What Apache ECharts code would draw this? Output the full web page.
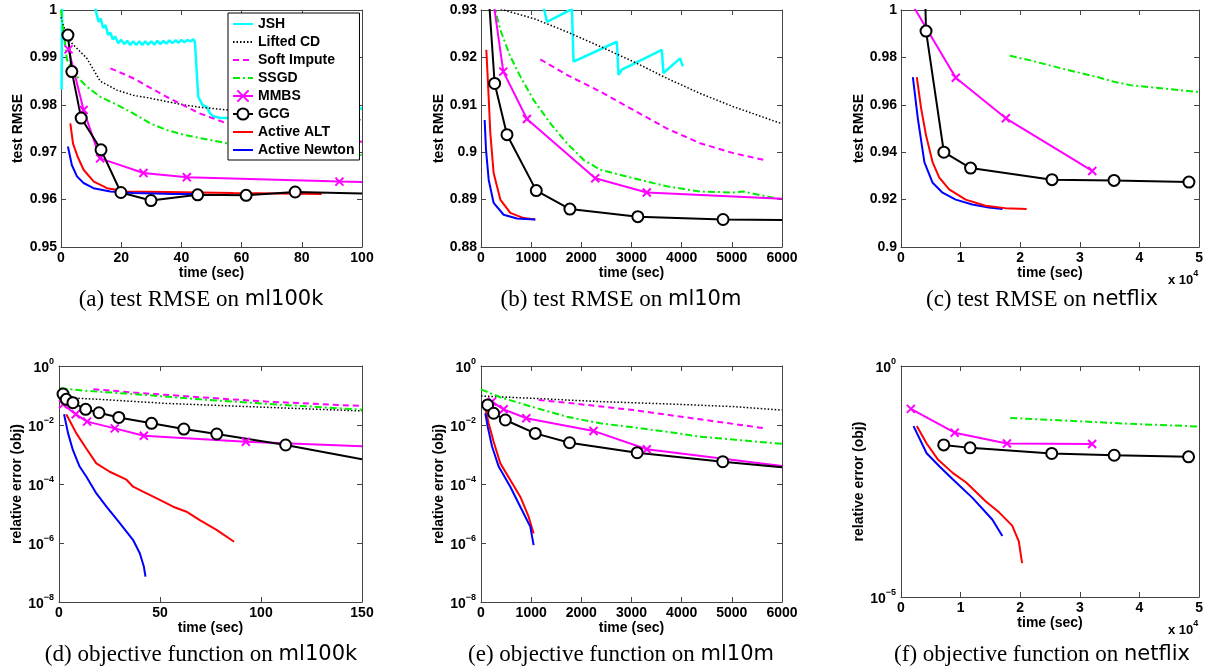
<!DOCTYPE html>
<html>
<head>
<meta charset="utf-8">
<title>Test RMSE and objective vs time</title>
<script src="https://cdn.jsdelivr.net/npm/echarts@6/dist/echarts.min.js"></script>
<style>
  html, body { margin: 0; padding: 0; background: #fff; }
  #chart { width: 1206px; height: 667px; }
</style>
</head>
<body>
<div id="chart"></div>
<script>
// legend order
const methods = ['JSH', 'Lifted CD', 'Soft Impute', 'SSGD', 'MMBS', 'GCG', 'Active ALT', 'Active Newton']

// points are [time, value]; a third element 0 means "no marker at this point"

// (a) test RMSE on ml100k
const aJSH = [[0.2, 0.9832], [0.4, 1.005], [11.0, 1.005], [11.5, 1.0], [12.5, 0.9975], [13.2, 0.9982], [14, 0.9962], [14.8, 0.9968],
  [15.6, 0.9948], [16.4, 0.9952], [17.2, 0.9938], [18, 0.9944], [19, 0.993], [20, 0.9937], [21, 0.9928], [22, 0.9935], [23, 0.9926],
  [24, 0.9934], [25, 0.9926], [26, 0.9934], [27, 0.9926], [28, 0.9934], [29, 0.9927], [30, 0.9934], [31, 0.9927], [32, 0.9935],
  [33, 0.9928], [34, 0.9935], [35, 0.9929], [36, 0.9936], [37, 0.993], [38, 0.9936], [39, 0.9931], [40, 0.9937], [41, 0.9932],
  [42, 0.9937], [43, 0.9934], [44, 0.9938], [44.5, 0.9932], [45.6, 0.9817], [47, 0.98], [48.5, 0.9795], [49.5, 0.9782],
  [50.5, 0.9776], [53, 0.9772], [56, 0.9772], [70, 0.9778], [85, 0.9785], [100, 0.9792]]
const aLifted = [[0, 0.9985], [0.9, 0.9965], [3.6, 0.993], [8.6, 0.9898], [13, 0.985], [18.6, 0.9831], [24, 0.982], [29.6, 0.9814],
  [35, 0.9807], [40.7, 0.98], [46, 0.9795], [55.4, 0.9789], [70, 0.978], [85, 0.9774], [100, 0.9768]]
const aSoft = [[16.4, 0.9877], [24, 0.9856], [35, 0.9817], [46, 0.9782], [55, 0.9761], [70, 0.9745], [85, 0.9733], [100, 0.9722]]
const aSSGD = [[0, 1.0], [0.9, 0.9951], [2, 0.9895], [4.2, 0.9867], [8.6, 0.9838], [13, 0.9817], [18.6, 0.98], [24, 0.9782],
  [29.6, 0.9761], [35, 0.9747], [40.7, 0.9737], [46, 0.973], [55, 0.9719], [75, 0.9705], [100, 0.9694]]
const aMMBS = [[2.5, 0.9917], [7.5, 0.9789], [13, 0.9687], [27.4, 0.9656], [41.8, 0.9647], [92.5, 0.9638], [100, 0.9637, 0]]
const aGCG = [[2.3, 0.9947], [3.6, 0.987], [6.7, 0.9772], [13.3, 0.9705], [19.9, 0.9615], [29.9, 0.9598], [45.4, 0.961],
  [61.5, 0.9609], [77.8, 0.9616], [100, 0.9613, 0]]
const aALT = [[3.1, 0.9761], [4.0, 0.9718], [5.5, 0.9691], [7.5, 0.9663], [10.9, 0.9638], [15.3, 0.9624], [21.9, 0.9617],
  [35, 0.9616], [57.3, 0.9614], [86.6, 0.9612]]
const aNewton = [[2.3, 0.9712], [3.6, 0.9673], [5.3, 0.9649], [7.5, 0.9635], [10.8, 0.9624], [16.4, 0.9617], [24, 0.9614],
  [37.4, 0.9612], [46.2, 0.9612]]

// (b) test RMSE on ml10m
const bJSH = [[1230, 0.9315], [1314, 0.9275], [1812, 0.9302], [1845, 0.9191], [2708, 0.9233], [2741, 0.9163], [2808, 0.9174],
  [3604, 0.9216], [3637, 0.9167], [3969, 0.9198], [4022, 0.9181]]
const bLifted = [[0, 0.9318], [451, 0.93], [1049, 0.9282], [1712, 0.9254], [2376, 0.9223], [3040, 0.9191], [3704, 0.9156],
  [4367, 0.9124], [5031, 0.9096], [6000, 0.906]]
const bSoft = [[1181, 0.9196], [1712, 0.9163], [2376, 0.9128], [3040, 0.9089], [3704, 0.905], [4367, 0.9019], [5031, 0.8998],
  [5668, 0.8983]]
const bSSGD = [[200, 0.935], [285, 0.93], [385, 0.9258], [584, 0.9202], [783, 0.916], [1049, 0.911], [1381, 0.9061], [1712, 0.9019],
  [2044, 0.8984], [2376, 0.8963], [3040, 0.8945], [3704, 0.8928], [4367, 0.8917], [5031, 0.8915], [5230, 0.8917], [6000, 0.89]]
const bMMBS = [[230, 0.933, 0], [445, 0.917], [916, 0.907], [2277, 0.8945], [3305, 0.8915], [6000, 0.8902, 0]]
const bGCG = [[160, 0.932, 0], [272, 0.9145], [518, 0.9037], [1102, 0.8919], [1772, 0.888], [3126, 0.8864], [4825, 0.8858],
  [6000, 0.8857, 0]]
const bALT = [[106, 0.9216], [133, 0.916], [186, 0.904], [252, 0.8956], [385, 0.89], [584, 0.8872], [850, 0.8861], [1082, 0.8858]]
const bNewton = [[73, 0.9068], [100, 0.9005], [153, 0.8942], [252, 0.8893], [451, 0.8868], [717, 0.886], [1082, 0.8858]]

// (c) test RMSE on netflix
const cSSGD = [[18250, 0.9807], [21900, 0.9786], [27430, 0.975], [32960, 0.9717], [35730, 0.9697], [38500, 0.9683],
  [44030, 0.9669], [50000, 0.9654]]
const cMMBS = [[1660, 1.0033], [9180, 0.9714], [17590, 0.9543], [32080, 0.9321]]
const cGCG = [[4000, 1.01, 0], [4200, 0.9911], [7190, 0.94], [11670, 0.9333], [25330, 0.9284], [35730, 0.9281], [48290, 0.9274]]
const cALT = [[2650, 0.9717], [3370, 0.9586], [4200, 0.9471], [5310, 0.9357], [6420, 0.9293], [8080, 0.9243], [10840, 0.92],
  [14160, 0.9174], [17480, 0.9164], [21070, 0.916]]
const cNewton = [[1990, 0.9717], [2820, 0.9543], [3930, 0.9357], [5310, 0.9271], [6970, 0.9229], [9180, 0.92], [11950, 0.9179],
  [14710, 0.9167], [17040, 0.916]]

// (d) objective function on ml100k
const dLifted = [[1, 0.1], [10, 0.08], [20, 0.074], [53, 0.054], [86, 0.044], [119, 0.036], [150, 0.03]]
const dSoft = [[17, 0.163], [37, 0.126], [70, 0.087], [103, 0.062], [150, 0.044]]
const dSSGD = [[0.7, 0.175], [12, 0.146], [37, 0.112], [70, 0.074], [103, 0.052], [150, 0.033]]
const dMMBS = [[2, 0.05], [8.3, 0.023], [13.9, 0.013], [27.6, 0.0077], [42, 0.0043], [92.5, 0.0027], [150, 0.0019, 0]]
const dGCG = [[2, 0.112], [3.6, 0.074], [6.9, 0.057], [13.2, 0.034], [19.8, 0.026], [29.6, 0.018], [45.8, 0.0114], [61.8, 0.0073],
  [78.1, 0.00495], [112.2, 0.0021], [150, 0.00069, 0]]
const dALT = [[3.6, 0.023], [8.6, 0.0052], [13.5, 0.0016], [18.5, 0.0005], [25.1, 0.00026], [33.4, 0.00014], [36.7, 0.000081],
  [41.6, 0.000055], [49.9, 0.000029], [56.5, 0.000017], [63.1, 0.0000115], [69.7, 0.000006], [78, 0.0000028], [86.7, 0.0000011]]
const dNewton = [[2.5, 0.023], [4.5, 0.0052], [6.9, 0.0014], [10.2, 0.00039], [13.5, 0.00018], [18.5, 0.000048], [23.5, 0.000017],
  [30.1, 0.0000047], [36.7, 0.00000126], [40, 0.00000045], [42, 0.00000016], [42.8, 0.000000072]]

// (e) objective function on ml10m
const eLifted = [[0, 0.096], [1049, 0.08], [2376, 0.062], [3704, 0.052], [5031, 0.042], [6000, 0.032]]
const eSoft = [[1148, 0.07], [1712, 0.057], [3040, 0.032], [4367, 0.0156], [5668, 0.0077]]
const eSSGD = [[0, 0.162], [385, 0.087], [1049, 0.04], [1712, 0.019], [2376, 0.0114], [3040, 0.0083], [3704, 0.0059], [4367, 0.004],
  [5031, 0.0032], [6000, 0.0023]]
const eMMBS = [[219, 0.062], [451, 0.034], [903, 0.017], [2243, 0.0063], [3305, 0.0015], [6000, 0.00041, 0]]
const eGCG = [[133, 0.048], [252, 0.025], [485, 0.0148], [1082, 0.0052], [1765, 0.0025], [3113, 0.00115], [4819, 0.00057],
  [6000, 0.00037, 0]]
const eALT = [[86, 0.037], [153, 0.0114], [252, 0.0027], [385, 0.0005], [584, 0.000137], [783, 0.000037], [949, 0.0000078],
  [1049, 0.0000021]]
const eNewton = [[86, 0.025], [133, 0.0088], [219, 0.0019], [352, 0.00039], [584, 0.000081], [783, 0.000017], [982, 0.0000036],
  [1049, 0.00000085]]

// (f) objective function on netflix
const fSSGD = [[18320, 0.075], [27480, 0.066], [38520, 0.056], [50000, 0.049]]
const fMMBS = [[1656, 0.118], [9000, 0.036], [17770, 0.021], [32060, 0.0205]]
const fGCG = [[7170, 0.0196], [11590, 0.0169], [25280, 0.0128], [35760, 0.0117], [48230, 0.0108]]
const fALT = [[2650, 0.05], [4300, 0.021], [6240, 0.0093], [8720, 0.0048], [10930, 0.003], [14240, 0.00117], [16450, 0.00068],
  [18650, 0.00035], [19760, 0.00016], [20310, 0.000054]]
const fNewton = [[2100, 0.05], [4300, 0.0129], [6510, 0.0066], [8720, 0.0035], [12030, 0.00138], [15340, 0.00047], [17000, 0.00021]]

// log-axis tick values
const logTicksDE = [1e-8, 1e-6, 1e-4, 1e-2, 1]
const logTicksF = [1e-5, 1]

const captions = [
  ['(a) test RMSE on ', 'ml100k'], ['(b) test RMSE on ', 'ml10m'], ['(c) test RMSE on ', 'netflix'],
  ['(d) objective function on ', 'ml100k'], ['(e) objective function on ', 'ml10m'], ['(f) objective function on ', 'netflix']
]

const FONT = 'Liberation Sans'
const AXIS_COLOR = '#444'
const xPath = 'path://M0,0L10,10M10,0L0,10'

const methodStyle = {
  'JSH': { color: '#00ffff', width: 2.5, type: 'solid' },
  'Lifted CD': { color: '#000', width: 1.5, type: [1.5, 2] },
  'Soft Impute': { color: '#ff00ff', width: 2, type: [6, 4] },
  'SSGD': { color: '#00ee00', width: 2, type: [7, 3, 2, 3] },
  'MMBS': { color: '#ff00ff', width: 2, type: 'solid', symbol: xPath, symbolSize: 8 },
  'GCG': { color: '#000', width: 2, type: 'solid', symbol: 'emptyCircle', symbolSize: 11 },
  'Active ALT': { color: '#ff0000', width: 2, type: 'solid' },
  'Active Newton': { color: '#0000ff', width: 2, type: 'solid' }
}

// plot boxes (a)..(f)
const grids = [
  { left: 61, top: 10, width: 301, height: 237 },
  { left: 481, top: 10, width: 301, height: 237 },
  { left: 901, top: 10, width: 302, height: 237 },
  { left: 59, top: 366, width: 303, height: 236 },
  { left: 481, top: 366, width: 301, height: 236 },
  { left: 901, top: 366, width: 302, height: 231 }
]

const tickFont = { fontFamily: FONT, fontWeight: 'bold', fontSize: 14, color: '#000' }

function logLabel(v) {
  const e = Math.round(Math.log10(v))
  return '{b|10}{s|' + String(e).replace('-', '\u2212') + '}'
}
const logRich = {
  b: { fontFamily: FONT, fontWeight: 'bold', fontSize: 14, color: '#000', padding: [4, 0, 0, 0] },
  s: { fontFamily: FONT, fontWeight: 'bold', fontSize: 9, color: '#000', verticalAlign: 'top' }
}

const xAxes = []
const yAxes = []

function addX(gi, min, max, interval, fmt, nameGap) {
  const base = {
    gridIndex: gi, type: 'value', min, max, interval,
    axisLine: { show: true, onZero: false, lineStyle: { color: AXIS_COLOR, width: 1 } },
    axisTick: { show: true, inside: true, length: 5, lineStyle: { color: AXIS_COLOR } },
    splitLine: { show: false }
  }
  xAxes.push(Object.assign({}, base, {
    position: 'bottom',
    name: 'time (sec)', nameLocation: 'middle', nameGap,
    nameTextStyle: { fontFamily: FONT, fontWeight: 'bold', fontSize: 14, color: '#000' },
    axisLabel: Object.assign({ margin: 4, formatter: fmt }, tickFont)
  }))
  xAxes.push(Object.assign({}, base, { position: 'top', axisLabel: { show: false } }))
}

function addY(gi, type, min, max, interval, ticks, name, nameGap) {
  const base = {
    gridIndex: gi, type, min, max,
    axisLine: { show: true, onZero: false, lineStyle: { color: AXIS_COLOR, width: 1 } },
    axisTick: { show: true, inside: true, length: 5, lineStyle: { color: AXIS_COLOR } },
    splitLine: { show: false }
  }
  if (type === 'value') base.interval = interval
  else base.axisTick.customValues = ticks
  const label = type === 'value'
    ? Object.assign({ margin: 4 }, tickFont)
    : { margin: 5, formatter: logLabel, rich: logRich, customValues: ticks }
  yAxes.push(Object.assign({}, base, {
    position: 'left',
    name, nameLocation: 'middle', nameGap, nameRotate: 90,
    nameTextStyle: { fontFamily: FONT, fontWeight: 'bold', fontSize: 14, color: '#000' },
    axisLabel: label
  }))
  yAxes.push(Object.assign({}, base, { position: 'right', axisLabel: { show: false } }))
}

const secFmt = (v) => String(v)
const e4Fmt = (v) => String(v / 10000)

addX(0, 0, 100, 20, secFmt, 19)
addX(1, 0, 6000, 1000, secFmt, 19)
addX(2, 0, 50000, 10000, e4Fmt, 19)
addX(3, 0, 150, 50, secFmt, 19)
addX(4, 0, 6000, 1000, secFmt, 19)
addX(5, 0, 50000, 10000, e4Fmt, 11)

addY(0, 'value', 0.95, 1, 0.01, null, 'test RMSE', 36)
addY(1, 'value', 0.88, 0.93, 0.01, null, 'test RMSE', 32)
addY(2, 'value', 0.9, 1, 0.02, null, 'test RMSE', 32)
addY(3, 'log', 1e-8, 1, null, logTicksDE, 'relative error (obj)', 33)
addY(4, 'log', 1e-8, 1, null, logTicksDE, 'relative error (obj)', 34)
addY(5, 'log', 1e-5, 1, null, logTicksF, 'relative error (obj)', 34)

function line(name, gi, pts) {
  const st = methodStyle[name]
  return {
    type: 'line', name,
    xAxisIndex: gi * 2, yAxisIndex: gi * 2,
    data: pts.map((p) => (p[2] === 0 ? { value: [p[0], p[1]], symbol: 'none' } : [p[0], p[1]])),
    symbol: st.symbol || 'none',
    symbolSize: st.symbolSize || 0,
    showSymbol: !!st.symbol,
    clip: true,
    lineStyle: { color: st.color, width: st.width, type: st.type },
    itemStyle: { color: st.color, borderColor: st.color, borderWidth: 2 },
    emphasis: { disabled: true },
    silent: true
  }
}

const series = [
  line('JSH', 0, aJSH), line('Lifted CD', 0, aLifted), line('Soft Impute', 0, aSoft), line('SSGD', 0, aSSGD),
  line('MMBS', 0, aMMBS), line('Active ALT', 0, aALT), line('Active Newton', 0, aNewton), line('GCG', 0, aGCG),

  line('JSH', 1, bJSH), line('Lifted CD', 1, bLifted), line('Soft Impute', 1, bSoft), line('SSGD', 1, bSSGD),
  line('MMBS', 1, bMMBS), line('GCG', 1, bGCG), line('Active ALT', 1, bALT), line('Active Newton', 1, bNewton),

  line('SSGD', 2, cSSGD), line('MMBS', 2, cMMBS), line('GCG', 2, cGCG), line('Active Newton', 2, cNewton), line('Active ALT', 2, cALT),

  line('Lifted CD', 3, dLifted), line('Soft Impute', 3, dSoft), line('SSGD', 3, dSSGD), line('MMBS', 3, dMMBS),
  line('GCG', 3, dGCG), line('Active ALT', 3, dALT), line('Active Newton', 3, dNewton),

  line('Lifted CD', 4, eLifted), line('Soft Impute', 4, eSoft), line('SSGD', 4, eSSGD), line('MMBS', 4, eMMBS),
  line('GCG', 4, eGCG), line('Active ALT', 4, eALT), line('Active Newton', 4, eNewton),

  line('SSGD', 5, fSSGD), line('MMBS', 5, fMMBS), line('GCG', 5, fGCG), line('Active ALT', 5, fALT), line('Active Newton', 5, fNewton)
]

// legend: plain lines get no marker (hide the default circle)
const legendData = methods.map((m) => (methodStyle[m].symbol
  ? { name: m }
  : { name: m, itemStyle: { opacity: 0 } }))

// captions under each panel, and the x 10^4 multipliers
const captionPos = [[201, 300], [621, 300], [1042, 300], [201, 655], [621, 655], [1042, 655]]
const graphic = captions.map((c, i) => ({
  type: 'text', x: captionPos[i][0], y: captionPos[i][1], silent: true,
  style: {
    text: '{t|' + c[0] + '}{s|' + c[1] + '}',
    align: 'center', verticalAlign: 'middle', textAlign: 'center', textVerticalAlign: 'middle',
    rich: {
      t: { fontFamily: 'Liberation Serif', fontSize: 23, color: '#000' },
      s: { fontFamily: 'DejaVu Sans', fontSize: 21, color: '#000' }
    }
  }
}))
const multRich = {
  b: { fontFamily: FONT, fontWeight: 'bold', fontSize: 13, color: '#000', padding: [4, 0, 0, 0] },
  s: { fontFamily: FONT, fontWeight: 'bold', fontSize: 9, color: '#000', verticalAlign: 'top' }
}
;[[1168, 278], [1168, 628]].forEach((p) => {
  graphic.push({
    type: 'text', x: p[0], y: p[1], silent: true,
    style: {
      text: '{b|x 10}{s|4}', rich: multRich,
      align: 'left', verticalAlign: 'middle', textAlign: 'left', textVerticalAlign: 'middle'
    }
  })
})

const chart = echarts.init(document.getElementById('chart'), null, { renderer: 'canvas' })
chart.setOption({
  animation: false,
  backgroundColor: '#fff',
  grid: grids.map((g) => Object.assign({ containLabel: false, show: false }, g)),
  xAxis: xAxes,
  yAxis: yAxes,
  legend: {
    data: legendData,
    orient: 'vertical',
    left: 228, top: 13,
    padding: [4, 5, 3, 4],
    itemWidth: 20, itemHeight: 14, itemGap: 4,
    backgroundColor: '#fff',
    borderColor: '#000', borderWidth: 1,
    selectedMode: false,
    lineStyle: { width: 2 },
    textStyle: { fontFamily: FONT, fontWeight: 'bold', fontSize: 14, color: '#000' }
  },
  graphic,
  series
})
</script>
</body>
</html>
